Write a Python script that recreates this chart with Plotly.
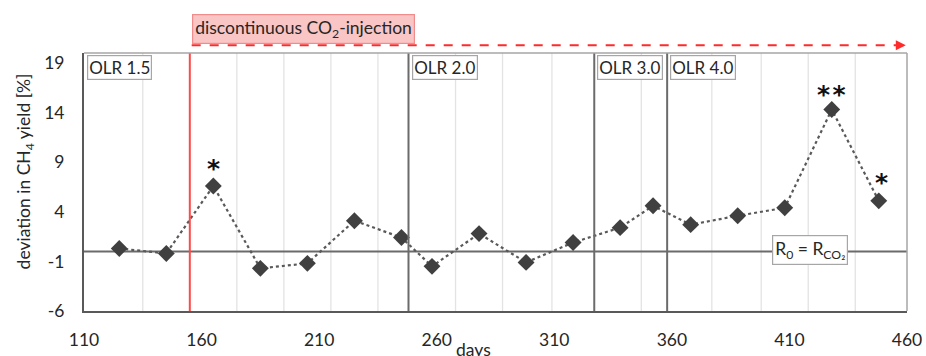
import plotly.graph_objects as go

# ---- data ----
days = [125, 145, 165, 185, 205, 225, 245, 258, 278, 298, 318, 338, 352, 368, 388, 408, 428, 448]
deviation = [0.3, -0.2, 6.6, -1.7, -1.2, 3.1, 1.4, -1.5, 1.8, -1.1, 0.9, 2.4, 4.6, 2.7, 3.6, 4.4, 14.3, 5.1]

x_ticks = [110, 160, 210, 260, 310, 360, 410, 460]
y_ticks = [-6, -1, 4, 9, 14, 19]

olr_labels = ["OLR 1.5", "OLR 2.0", "OLR 3.0", "OLR 4.0"]
olr_starts = [110, 248, 327, 358]
olr_bounds = [248, 327, 358]
co2_start = 155
grid_days = [135, 175, 195, 215, 235, 268, 288, 309, 347, 377, 398, 418, 438]

sig_labels = ["*", "*&#8202;*", "*"]
sig_days = [165, 428, 449]
sig_vals = [8.4, 15.8, 6.9]

FONT = "Lato"
TXT = "#262626"

fig = go.Figure()

fig.add_trace(go.Scatter(
    x=days, y=deviation, mode="lines+markers",
    line=dict(color="#595959", width=2.2, dash="dot"),
    marker=dict(symbol="diamond", size=13, color="#404040"),
    showlegend=False, hoverinfo="skip",
))

shapes = []
for g in grid_days:
    shapes.append(dict(type="line", xref="x", yref="paper", x0=g, x1=g, y0=0, y1=1,
                       line=dict(color="#e3e3e3", width=1.3), layer="below"))
for b in olr_bounds:
    shapes.append(dict(type="line", xref="x", yref="paper", x0=b, x1=b, y0=0, y1=1,
                       line=dict(color="#6b6b6b", width=2), layer="above"))
shapes.append(dict(type="line", xref="x", yref="paper", x0=co2_start, x1=co2_start, y0=0, y1=1,
                   line=dict(color="#ff4a4a", width=2), layer="above"))
# zero line
shapes.append(dict(type="line", xref="paper", yref="y", x0=0, x1=1, y0=0, y1=0,
                   line=dict(color="#6b6b6b", width=2), layer="below"))
# top and right border
shapes.append(dict(type="line", xref="paper", yref="paper", x0=0, x1=1, y0=1, y1=1,
                   line=dict(color="#a6a6a6", width=1.5)))
shapes.append(dict(type="line", xref="paper", yref="paper", x0=1, x1=1, y0=0, y1=1,
                   line=dict(color="#a6a6a6", width=1.5)))
# dashed red arrow line above the plot
shapes.append(dict(type="line", xref="x", yref="paper", x0=co2_start + 0.8, x1=457, y0=1.03, y1=1.03,
                   line=dict(color="#ff2a2a", width=2, dash="dash")))

annotations = []
# arrowhead
annotations.append(dict(x=459.5, y=1.03, xref="x", yref="paper", ax=-8, ay=0, axref="pixel", ayref="pixel",
                        text="", showarrow=True, arrowhead=2, arrowsize=1, arrowwidth=2,
                        arrowcolor="#ff2a2a"))
# injection label
annotations.append(dict(x=co2_start + 0.8, y=1.094, xref="x", yref="paper", xanchor="left", yanchor="middle",
                        text="discontinuous CO<sub>2</sub>-injection", showarrow=False,
                        font=dict(family=FONT, size=17.5, color=TXT),
                        bgcolor="#f9c5c5", bordercolor="#f08c8c", borderwidth=1.2, borderpad=2))
# OLR labels
for lab, s in zip(olr_labels, olr_starts):
    annotations.append(dict(x=s, y=0.992, xref="x", yref="paper", xanchor="left", yanchor="top",
                            xshift=3, text=lab, showarrow=False,
                            font=dict(family=FONT, size=17, color=TXT),
                            bgcolor="white", bordercolor="#a6a6a6", borderwidth=1.2, borderpad=1))
# R0 = RCO2 label
annotations.append(dict(x=418.8, y=0.1, xref="x", yref="y", xanchor="center", yanchor="middle",
                        text="R<sub>0</sub> = R<sub>CO₂</sub>", showarrow=False,
                        font=dict(family=FONT, size=17.5, color=TXT),
                        bgcolor="white", bordercolor="#a6a6a6", borderwidth=1.2, borderpad=2))
# significance marks
for lab, d, v in zip(sig_labels, sig_days, sig_vals):
    annotations.append(dict(x=d, y=v, xref="x", yref="y", xanchor="center", yanchor="middle",
                            text="<b>" + lab + "</b>", showarrow=False,
                            font=dict(family="DejaVu Sans", size=25, color="#111111")))
# y title
annotations.append(dict(x=-0.072, y=0.54, xref="paper", yref="paper", xanchor="center", yanchor="middle",
                        textangle=-90, text="deviation in CH<sub>4</sub> yield [%]", showarrow=False,
                        font=dict(family=FONT, size=17.5, color=TXT)))
# x title
annotations.append(dict(x=0.473, y=-0.102, xref="paper", yref="paper", xanchor="center", yanchor="top",
                        text="days", showarrow=False,
                        font=dict(family=FONT, size=17.5, color=TXT)))

fig.update_layout(
    width=926, height=356,
    margin=dict(l=84, r=19, t=53, b=45, autoexpand=False),
    paper_bgcolor="white", plot_bgcolor="white",
    shapes=shapes, annotations=annotations,
    xaxis=dict(range=[110, 460], tickvals=x_ticks, ticktext=[str(t) for t in x_ticks],
               showgrid=False, zeroline=False, showline=True, linecolor="#595959", linewidth=2,
               ticks="", ticklabelstandoff=12, automargin=False,
               tickfont=dict(family=FONT, size=17.5, color=TXT)),
    yaxis=dict(range=[-6, 20], tickvals=y_ticks, ticktext=[str(t) for t in y_ticks],
               showgrid=False, zeroline=False, showline=True, linecolor="#595959", linewidth=2,
               ticks="", ticklabelstandoff=14, automargin=False,
               tickfont=dict(family=FONT, size=17.5, color=TXT)),
)

fig.write_html("out.html")
